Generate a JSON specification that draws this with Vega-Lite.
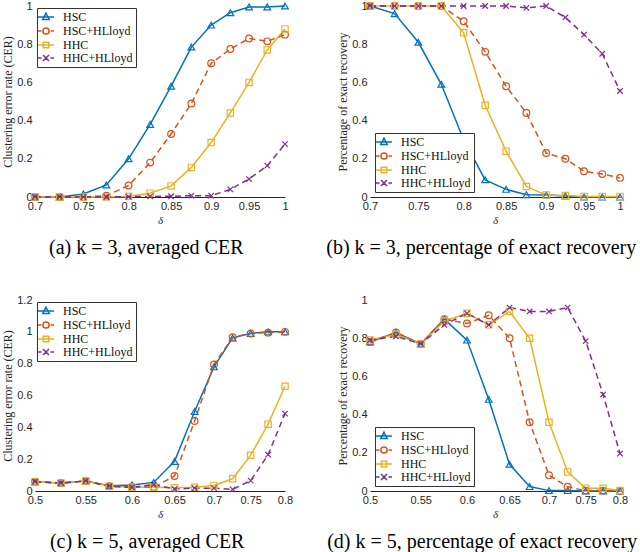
{
"$schema": "https://vega.github.io/schema/vega-lite/v6.json",
"padding": {"left": 1, "top": 0, "right": 2, "bottom": 4},
"background": "white",
"datasets": {
"a": [
{"x":0.7,"y":0,"method":"HSC"},{"x":0.725,"y":0,"method":"HSC"},{"x":0.75,"y":0.016,"method":"HSC"},{"x":0.775,"y":0.063,"method":"HSC"},{"x":0.8,"y":0.2,"method":"HSC"},{"x":0.825,"y":0.38,"method":"HSC"},{"x":0.85,"y":0.58,"method":"HSC"},{"x":0.875,"y":0.785,"method":"HSC"},{"x":0.9,"y":0.9,"method":"HSC"},{"x":0.925,"y":0.965,"method":"HSC"},{"x":0.95,"y":0.995,"method":"HSC"},{"x":0.975,"y":0.995,"method":"HSC"},{"x":1.0,"y":1.0,"method":"HSC"},
{"x":0.7,"y":0,"method":"HSC+HLloyd"},{"x":0.725,"y":0,"method":"HSC+HLloyd"},{"x":0.75,"y":0,"method":"HSC+HLloyd"},{"x":0.775,"y":0.007,"method":"HSC+HLloyd"},{"x":0.8,"y":0.06,"method":"HSC+HLloyd"},{"x":0.825,"y":0.18,"method":"HSC+HLloyd"},{"x":0.85,"y":0.33,"method":"HSC+HLloyd"},{"x":0.875,"y":0.49,"method":"HSC+HLloyd"},{"x":0.9,"y":0.7,"method":"HSC+HLloyd"},{"x":0.925,"y":0.775,"method":"HSC+HLloyd"},{"x":0.95,"y":0.83,"method":"HSC+HLloyd"},{"x":0.975,"y":0.815,"method":"HSC+HLloyd"},{"x":1.0,"y":0.85,"method":"HSC+HLloyd"},
{"x":0.7,"y":0,"method":"HHC"},{"x":0.725,"y":0,"method":"HHC"},{"x":0.75,"y":0,"method":"HHC"},{"x":0.775,"y":0,"method":"HHC"},{"x":0.8,"y":0.004,"method":"HHC"},{"x":0.825,"y":0.02,"method":"HHC"},{"x":0.85,"y":0.058,"method":"HHC"},{"x":0.875,"y":0.155,"method":"HHC"},{"x":0.9,"y":0.285,"method":"HHC"},{"x":0.925,"y":0.44,"method":"HHC"},{"x":0.95,"y":0.6,"method":"HHC"},{"x":0.975,"y":0.77,"method":"HHC"},{"x":1.0,"y":0.88,"method":"HHC"},
{"x":0.7,"y":0,"method":"HHC+HLloyd"},{"x":0.725,"y":0,"method":"HHC+HLloyd"},{"x":0.75,"y":0,"method":"HHC+HLloyd"},{"x":0.775,"y":0,"method":"HHC+HLloyd"},{"x":0.8,"y":0.002,"method":"HHC+HLloyd"},{"x":0.825,"y":0.003,"method":"HHC+HLloyd"},{"x":0.85,"y":0.004,"method":"HHC+HLloyd"},{"x":0.875,"y":0.007,"method":"HHC+HLloyd"},{"x":0.9,"y":0.007,"method":"HHC+HLloyd"},{"x":0.925,"y":0.04,"method":"HHC+HLloyd"},{"x":0.95,"y":0.094,"method":"HHC+HLloyd"},{"x":0.975,"y":0.164,"method":"HHC+HLloyd"},{"x":1.0,"y":0.277,"method":"HHC+HLloyd"}
],
"b": [
{"x":0.7,"y":1,"method":"HSC"},{"x":0.725,"y":0.96,"method":"HSC"},{"x":0.75,"y":0.81,"method":"HSC"},{"x":0.775,"y":0.59,"method":"HSC"},{"x":0.8,"y":0.3,"method":"HSC"},{"x":0.825,"y":0.09,"method":"HSC"},{"x":0.85,"y":0.04,"method":"HSC"},{"x":0.875,"y":0.012,"method":"HSC"},{"x":0.9,"y":0.01,"method":"HSC"},{"x":0.925,"y":0.005,"method":"HSC"},{"x":0.95,"y":0,"method":"HSC"},{"x":0.975,"y":0,"method":"HSC"},{"x":1.0,"y":0,"method":"HSC"},
{"x":0.7,"y":1,"method":"HSC+HLloyd"},{"x":0.725,"y":1,"method":"HSC+HLloyd"},{"x":0.75,"y":1,"method":"HSC+HLloyd"},{"x":0.775,"y":1,"method":"HSC+HLloyd"},{"x":0.8,"y":0.92,"method":"HSC+HLloyd"},{"x":0.825,"y":0.76,"method":"HSC+HLloyd"},{"x":0.85,"y":0.58,"method":"HSC+HLloyd"},{"x":0.875,"y":0.44,"method":"HSC+HLloyd"},{"x":0.9,"y":0.23,"method":"HSC+HLloyd"},{"x":0.925,"y":0.2,"method":"HSC+HLloyd"},{"x":0.95,"y":0.135,"method":"HSC+HLloyd"},{"x":0.975,"y":0.12,"method":"HSC+HLloyd"},{"x":1.0,"y":0.1,"method":"HSC+HLloyd"},
{"x":0.7,"y":1,"method":"HHC"},{"x":0.725,"y":1,"method":"HHC"},{"x":0.75,"y":1,"method":"HHC"},{"x":0.775,"y":1,"method":"HHC"},{"x":0.8,"y":0.86,"method":"HHC"},{"x":0.825,"y":0.48,"method":"HHC"},{"x":0.85,"y":0.24,"method":"HHC"},{"x":0.875,"y":0.055,"method":"HHC"},{"x":0.9,"y":0.01,"method":"HHC"},{"x":0.925,"y":0.008,"method":"HHC"},{"x":0.95,"y":0.003,"method":"HHC"},{"x":0.975,"y":0.003,"method":"HHC"},{"x":1.0,"y":0.003,"method":"HHC"},
{"x":0.7,"y":1,"method":"HHC+HLloyd"},{"x":0.725,"y":1,"method":"HHC+HLloyd"},{"x":0.75,"y":1,"method":"HHC+HLloyd"},{"x":0.775,"y":1,"method":"HHC+HLloyd"},{"x":0.8,"y":1,"method":"HHC+HLloyd"},{"x":0.825,"y":1,"method":"HHC+HLloyd"},{"x":0.85,"y":1,"method":"HHC+HLloyd"},{"x":0.875,"y":0.99,"method":"HHC+HLloyd"},{"x":0.9,"y":1,"method":"HHC+HLloyd"},{"x":0.925,"y":0.94,"method":"HHC+HLloyd"},{"x":0.95,"y":0.85,"method":"HHC+HLloyd"},{"x":0.975,"y":0.75,"method":"HHC+HLloyd"},{"x":1.0,"y":0.555,"method":"HHC+HLloyd"}
],
"c": [
{"x":0.5,"y":0.058,"method":"HSC"},{"x":0.525,"y":0.05,"method":"HSC"},{"x":0.55,"y":0.063,"method":"HSC"},{"x":0.575,"y":0.033,"method":"HSC"},{"x":0.6,"y":0.038,"method":"HSC"},{"x":0.625,"y":0.054,"method":"HSC"},{"x":0.65,"y":0.186,"method":"HSC"},{"x":0.675,"y":0.5,"method":"HSC"},{"x":0.7,"y":0.78,"method":"HSC"},{"x":0.725,"y":0.962,"method":"HSC"},{"x":0.75,"y":0.99,"method":"HSC"},{"x":0.775,"y":1.0,"method":"HSC"},{"x":0.8,"y":1.0,"method":"HSC"},
{"x":0.5,"y":0.058,"method":"HSC+HLloyd"},{"x":0.525,"y":0.05,"method":"HSC+HLloyd"},{"x":0.55,"y":0.063,"method":"HSC+HLloyd"},{"x":0.575,"y":0.03,"method":"HSC+HLloyd"},{"x":0.6,"y":0.025,"method":"HSC+HLloyd"},{"x":0.625,"y":0.025,"method":"HSC+HLloyd"},{"x":0.65,"y":0.094,"method":"HSC+HLloyd"},{"x":0.675,"y":0.44,"method":"HSC+HLloyd"},{"x":0.7,"y":0.795,"method":"HSC+HLloyd"},{"x":0.725,"y":0.966,"method":"HSC+HLloyd"},{"x":0.75,"y":0.99,"method":"HSC+HLloyd"},{"x":0.775,"y":0.995,"method":"HSC+HLloyd"},{"x":0.8,"y":1.0,"method":"HSC+HLloyd"},
{"x":0.5,"y":0.058,"method":"HHC"},{"x":0.525,"y":0.05,"method":"HHC"},{"x":0.55,"y":0.063,"method":"HHC"},{"x":0.575,"y":0.03,"method":"HHC"},{"x":0.6,"y":0.023,"method":"HHC"},{"x":0.625,"y":0.023,"method":"HHC"},{"x":0.65,"y":0.02,"method":"HHC"},{"x":0.675,"y":0.023,"method":"HHC"},{"x":0.7,"y":0.035,"method":"HHC"},{"x":0.725,"y":0.077,"method":"HHC"},{"x":0.75,"y":0.225,"method":"HHC"},{"x":0.775,"y":0.42,"method":"HHC"},{"x":0.8,"y":0.658,"method":"HHC"},
{"x":0.5,"y":0.058,"method":"HHC+HLloyd"},{"x":0.525,"y":0.05,"method":"HHC+HLloyd"},{"x":0.55,"y":0.063,"method":"HHC+HLloyd"},{"x":0.575,"y":0.03,"method":"HHC+HLloyd"},{"x":0.6,"y":0.023,"method":"HHC+HLloyd"},{"x":0.625,"y":0.04,"method":"HHC+HLloyd"},{"x":0.65,"y":0.012,"method":"HHC+HLloyd"},{"x":0.675,"y":0.018,"method":"HHC+HLloyd"},{"x":0.7,"y":0.018,"method":"HHC+HLloyd"},{"x":0.725,"y":0.01,"method":"HHC+HLloyd"},{"x":0.75,"y":0.065,"method":"HHC+HLloyd"},{"x":0.775,"y":0.228,"method":"HHC+HLloyd"},{"x":0.8,"y":0.486,"method":"HHC+HLloyd"}
],
"d": [
{"x":0.5,"y":0.78,"method":"HSC"},{"x":0.525,"y":0.83,"method":"HSC"},{"x":0.55,"y":0.77,"method":"HSC"},{"x":0.575,"y":0.9,"method":"HSC"},{"x":0.6,"y":0.79,"method":"HSC"},{"x":0.625,"y":0.48,"method":"HSC"},{"x":0.65,"y":0.14,"method":"HSC"},{"x":0.675,"y":0.023,"method":"HSC"},{"x":0.7,"y":0.002,"method":"HSC"},{"x":0.725,"y":0.002,"method":"HSC"},{"x":0.75,"y":0,"method":"HSC"},{"x":0.775,"y":0,"method":"HSC"},{"x":0.8,"y":0,"method":"HSC"},
{"x":0.5,"y":0.78,"method":"HSC+HLloyd"},{"x":0.525,"y":0.83,"method":"HSC+HLloyd"},{"x":0.55,"y":0.77,"method":"HSC+HLloyd"},{"x":0.575,"y":0.9,"method":"HSC+HLloyd"},{"x":0.6,"y":0.877,"method":"HSC+HLloyd"},{"x":0.625,"y":0.92,"method":"HSC+HLloyd"},{"x":0.65,"y":0.8,"method":"HSC+HLloyd"},{"x":0.675,"y":0.36,"method":"HSC+HLloyd"},{"x":0.7,"y":0.083,"method":"HSC+HLloyd"},{"x":0.725,"y":0.022,"method":"HSC+HLloyd"},{"x":0.75,"y":0.002,"method":"HSC+HLloyd"},{"x":0.775,"y":0.002,"method":"HSC+HLloyd"},{"x":0.8,"y":0,"method":"HSC+HLloyd"},
{"x":0.5,"y":0.79,"method":"HHC"},{"x":0.525,"y":0.82,"method":"HHC"},{"x":0.55,"y":0.77,"method":"HHC"},{"x":0.575,"y":0.89,"method":"HHC"},{"x":0.6,"y":0.93,"method":"HHC"},{"x":0.625,"y":0.87,"method":"HHC"},{"x":0.65,"y":0.94,"method":"HHC"},{"x":0.675,"y":0.8,"method":"HHC"},{"x":0.7,"y":0.36,"method":"HHC"},{"x":0.725,"y":0.1,"method":"HHC"},{"x":0.75,"y":0.014,"method":"HHC"},{"x":0.775,"y":0.014,"method":"HHC"},{"x":0.8,"y":0.003,"method":"HHC"},
{"x":0.5,"y":0.79,"method":"HHC+HLloyd"},{"x":0.525,"y":0.81,"method":"HHC+HLloyd"},{"x":0.55,"y":0.77,"method":"HHC+HLloyd"},{"x":0.575,"y":0.87,"method":"HHC+HLloyd"},{"x":0.6,"y":0.93,"method":"HHC+HLloyd"},{"x":0.625,"y":0.87,"method":"HHC+HLloyd"},{"x":0.65,"y":0.96,"method":"HHC+HLloyd"},{"x":0.675,"y":0.94,"method":"HHC+HLloyd"},{"x":0.7,"y":0.94,"method":"HHC+HLloyd"},{"x":0.725,"y":0.96,"method":"HHC+HLloyd"},{"x":0.75,"y":0.785,"method":"HHC+HLloyd"},{"x":0.775,"y":0.505,"method":"HHC+HLloyd"},{"x":0.8,"y":0.196,"method":"HHC+HLloyd"}
]
},
"config": {
"view": {"stroke": null},
"axis": {"labelFont": "Liberation Sans", "labelFontSize": 11, "labelColor": "#262626", "titleFont": "Liberation Serif", "titleFontWeight": "normal", "titleFontSize": 12, "titleColor": "#262626", "ticks": false, "grid": false, "labelPadding": 3, "domain": false, "titlePadding": 2},
"axisX": {"domain": true, "domainColor": "#262626", "domainWidth": 1, "titleFontStyle": "italic", "titleFontSize": 11, "titlePadding": 3, "labelPadding": 3, "labelFlush": false},
"legend": {"offset": 2, "padding": 3, "fillColor": "white", "strokeColor": "#333333", "labelFont": "Liberation Serif", "labelFontSize": 12, "labelColor": "#111111", "symbolSize": 100, "labelOffset": 11, "rowPadding": 1},
"title": {"font": "Liberation Serif", "fontSize": 20, "fontWeight": "normal", "color": "black", "orient": "bottom", "anchor": "middle", "frame": "bounds", "offset": 13}
},
"resolve": {"scale": {"color": "independent", "shape": "independent"}, "legend": {"color": "independent", "shape": "independent"}},
"columns": 2,
"bounds": "flush",
"spacing": {"row": 103, "column": 85},
"concat": [
{
"width": 250, "height": 191,
"data": {"name": "a"},
"title": {"text": "(a) k = 3, averaged CER"},
"encoding": {
"x": {"field": "x", "type": "quantitative", "scale": {"type": "log", "domain": [0.7, 1], "nice": false}, "axis": {"values": [0.7, 0.75, 0.8, 0.85, 0.9, 0.95, 1], "format": "~g", "title": "δ"}},
"y": {"field": "y", "type": "quantitative", "scale": {"domain": [0, 1], "nice": false}, "axis": {"values": [0, 0.2, 0.4, 0.6, 0.8, 1], "format": "~g", "title": "Clustering error rate (CER)"}},
"color": {"field": "method", "type": "nominal", "scale": {"domain": ["HSC", "HSC+HLloyd", "HHC", "HHC+HLloyd"], "range": ["#0072BD", "#D95319", "#EDB120", "#7E2F8E"]}, "legend": {"title": null, "orient": "top-left"}}
},
"layer": [
{"transform": [{"filter": {"field": "method", "oneOf": ["HSC", "HHC"]}}], "mark": {"type": "line", "strokeWidth": 1.5}},
{"transform": [{"filter": {"field": "method", "oneOf": ["HSC+HLloyd", "HHC+HLloyd"]}}], "mark": {"type": "line", "strokeWidth": 1.5, "strokeDash": [6, 4]}},
{"transform": [{"filter": {"field": "method", "equal": "HSC"}}], "mark": {"type": "point", "shape": "triangle-up", "filled": false, "size": 45, "strokeWidth": 1.2, "opacity": 1}},
{"transform": [{"filter": {"field": "method", "equal": "HSC+HLloyd"}}], "mark": {"type": "point", "shape": "circle", "filled": false, "size": 45, "strokeWidth": 1.2, "opacity": 1}},
{"transform": [{"filter": {"field": "method", "equal": "HHC"}}], "mark": {"type": "point", "shape": "square", "filled": false, "size": 40, "strokeWidth": 1.2, "opacity": 1}},
{"transform": [{"filter": {"field": "method", "equal": "HHC+HLloyd"}}], "mark": {"type": "point", "shape": "M-1,-1L1,1M-1,1L1,-1", "filled": false, "size": 30, "strokeWidth": 1.2, "opacity": 1}},
{"mark": {"type": "point", "size": 0, "filled": false}, "encoding": {"shape": {"field": "method", "type": "nominal", "scale": {"domain": ["HSC", "HSC+HLloyd", "HHC", "HHC+HLloyd"], "range": ["M-1.6,0L1.6,0M0,-0.75L0.65,0.5L-0.65,0.5Z", "M-1.6,0L-0.9,0M0.9,0L1.6,0M0.62,0A0.62,0.62,0,1,1,-0.62,0A0.62,0.62,0,1,1,0.62,0Z", "M-1.6,0L1.6,0M-0.55,-0.55L0.55,-0.55L0.55,0.55L-0.55,0.55Z", "M-1.6,0L-0.9,0M0.9,0L1.6,0M-0.6,-0.6L0.6,0.6M-0.6,0.6L0.6,-0.6"]}, "legend": {"title": null, "orient": "top-left"}}}}
]
},
{
"width": 250, "height": 191,
"data": {"name": "b"},
"title": {"text": "(b) k = 3, percentage of exact recovery"},
"encoding": {
"x": {"field": "x", "type": "quantitative", "scale": {"type": "log", "domain": [0.7, 1], "nice": false}, "axis": {"values": [0.7, 0.75, 0.8, 0.85, 0.9, 0.95, 1], "format": "~g", "title": "δ"}},
"y": {"field": "y", "type": "quantitative", "scale": {"domain": [0, 1], "nice": false}, "axis": {"values": [0, 0.2, 0.4, 0.6, 0.8, 1], "format": "~g", "title": "Percentage of exact recovery"}},
"color": {"field": "method", "type": "nominal", "scale": {"domain": ["HSC", "HSC+HLloyd", "HHC", "HHC+HLloyd"], "range": ["#0072BD", "#D95319", "#EDB120", "#7E2F8E"]}, "legend": {"title": null, "orient": "bottom-left", "offset": 5}}
},
"layer": [
{"data": {"values": [{}]}, "mark": {"type": "rule", "strokeWidth": 1}, "encoding": {"x": {"datum": 1}, "y": {"datum": 0}, "y2": {"datum": 1}, "color": {"value": "#555555"}}},
{"transform": [{"filter": {"field": "method", "oneOf": ["HSC", "HHC"]}}], "mark": {"type": "line", "strokeWidth": 1.5}},
{"transform": [{"filter": {"field": "method", "oneOf": ["HSC+HLloyd", "HHC+HLloyd"]}}], "mark": {"type": "line", "strokeWidth": 1.5, "strokeDash": [6, 4]}},
{"transform": [{"filter": {"field": "method", "equal": "HSC"}}], "mark": {"type": "point", "shape": "triangle-up", "filled": false, "size": 45, "strokeWidth": 1.2, "opacity": 1}},
{"transform": [{"filter": {"field": "method", "equal": "HSC+HLloyd"}}], "mark": {"type": "point", "shape": "circle", "filled": false, "size": 45, "strokeWidth": 1.2, "opacity": 1}},
{"transform": [{"filter": {"field": "method", "equal": "HHC"}}], "mark": {"type": "point", "shape": "square", "filled": false, "size": 40, "strokeWidth": 1.2, "opacity": 1}},
{"transform": [{"filter": {"field": "method", "equal": "HHC+HLloyd"}}], "mark": {"type": "point", "shape": "M-1,-1L1,1M-1,1L1,-1", "filled": false, "size": 30, "strokeWidth": 1.2, "opacity": 1}},
{"mark": {"type": "point", "size": 0, "filled": false}, "encoding": {"shape": {"field": "method", "type": "nominal", "scale": {"domain": ["HSC", "HSC+HLloyd", "HHC", "HHC+HLloyd"], "range": ["M-1.6,0L1.6,0M0,-0.75L0.65,0.5L-0.65,0.5Z", "M-1.6,0L-0.9,0M0.9,0L1.6,0M0.62,0A0.62,0.62,0,1,1,-0.62,0A0.62,0.62,0,1,1,0.62,0Z", "M-1.6,0L1.6,0M-0.55,-0.55L0.55,-0.55L0.55,0.55L-0.55,0.55Z", "M-1.6,0L-0.9,0M0.9,0L1.6,0M-0.6,-0.6L0.6,0.6M-0.6,0.6L0.6,-0.6"]}, "legend": {"title": null, "orient": "bottom-left", "offset": 5}}}}
]
},
{
"width": 250, "height": 191,
"data": {"name": "c"},
"title": {"text": "(c) k = 5, averaged CER"},
"encoding": {
"x": {"field": "x", "type": "quantitative", "scale": {"type": "log", "domain": [0.5, 0.8], "nice": false}, "axis": {"values": [0.5, 0.55, 0.6, 0.65, 0.7, 0.75, 0.8], "format": "~g", "title": "δ"}},
"y": {"field": "y", "type": "quantitative", "scale": {"domain": [0, 1.2], "nice": false}, "axis": {"values": [0, 0.2, 0.4, 0.6, 0.8, 1, 1.2], "format": "~g", "title": "Clustering error rate (CER)"}},
"color": {"field": "method", "type": "nominal", "scale": {"domain": ["HSC", "HSC+HLloyd", "HHC", "HHC+HLloyd"], "range": ["#0072BD", "#D95319", "#EDB120", "#7E2F8E"]}, "legend": {"title": null, "orient": "top-left"}}
},
"layer": [
{"transform": [{"filter": {"field": "method", "oneOf": ["HSC", "HHC"]}}], "mark": {"type": "line", "strokeWidth": 1.5}},
{"transform": [{"filter": {"field": "method", "oneOf": ["HSC+HLloyd", "HHC+HLloyd"]}}], "mark": {"type": "line", "strokeWidth": 1.5, "strokeDash": [6, 4]}},
{"transform": [{"filter": {"field": "method", "equal": "HSC"}}], "mark": {"type": "point", "shape": "triangle-up", "filled": false, "size": 45, "strokeWidth": 1.2, "opacity": 1}},
{"transform": [{"filter": {"field": "method", "equal": "HSC+HLloyd"}}], "mark": {"type": "point", "shape": "circle", "filled": false, "size": 45, "strokeWidth": 1.2, "opacity": 1}},
{"transform": [{"filter": {"field": "method", "equal": "HHC"}}], "mark": {"type": "point", "shape": "square", "filled": false, "size": 40, "strokeWidth": 1.2, "opacity": 1}},
{"transform": [{"filter": {"field": "method", "equal": "HHC+HLloyd"}}], "mark": {"type": "point", "shape": "M-1,-1L1,1M-1,1L1,-1", "filled": false, "size": 30, "strokeWidth": 1.2, "opacity": 1}},
{"mark": {"type": "point", "size": 0, "filled": false}, "encoding": {"shape": {"field": "method", "type": "nominal", "scale": {"domain": ["HSC", "HSC+HLloyd", "HHC", "HHC+HLloyd"], "range": ["M-1.6,0L1.6,0M0,-0.75L0.65,0.5L-0.65,0.5Z", "M-1.6,0L-0.9,0M0.9,0L1.6,0M0.62,0A0.62,0.62,0,1,1,-0.62,0A0.62,0.62,0,1,1,0.62,0Z", "M-1.6,0L1.6,0M-0.55,-0.55L0.55,-0.55L0.55,0.55L-0.55,0.55Z", "M-1.6,0L-0.9,0M0.9,0L1.6,0M-0.6,-0.6L0.6,0.6M-0.6,0.6L0.6,-0.6"]}, "legend": {"title": null, "orient": "top-left"}}}}
]
},
{
"width": 250, "height": 191,
"data": {"name": "d"},
"title": {"text": "(d) k = 5, percentage of exact recovery"},
"encoding": {
"x": {"field": "x", "type": "quantitative", "scale": {"type": "log", "domain": [0.5, 0.8], "nice": false}, "axis": {"values": [0.5, 0.55, 0.6, 0.65, 0.7, 0.75, 0.8], "format": "~g", "title": "δ"}},
"y": {"field": "y", "type": "quantitative", "scale": {"domain": [0, 1], "nice": false}, "axis": {"values": [0, 0.2, 0.4, 0.6, 0.8, 1], "format": "~g", "title": "Percentage of exact recovery"}},
"color": {"field": "method", "type": "nominal", "scale": {"domain": ["HSC", "HSC+HLloyd", "HHC", "HHC+HLloyd"], "range": ["#0072BD", "#D95319", "#EDB120", "#7E2F8E"]}, "legend": {"title": null, "orient": "bottom-left", "offset": 5}}
},
"layer": [
{"data": {"values": [{}]}, "mark": {"type": "rule", "strokeWidth": 1}, "encoding": {"x": {"datum": 0.8}, "y": {"datum": 0}, "y2": {"datum": 1}, "color": {"value": "#555555"}}},
{"transform": [{"filter": {"field": "method", "oneOf": ["HSC", "HHC"]}}], "mark": {"type": "line", "strokeWidth": 1.5}},
{"transform": [{"filter": {"field": "method", "oneOf": ["HSC+HLloyd", "HHC+HLloyd"]}}], "mark": {"type": "line", "strokeWidth": 1.5, "strokeDash": [6, 4]}},
{"transform": [{"filter": {"field": "method", "equal": "HSC"}}], "mark": {"type": "point", "shape": "triangle-up", "filled": false, "size": 45, "strokeWidth": 1.2, "opacity": 1}},
{"transform": [{"filter": {"field": "method", "equal": "HSC+HLloyd"}}], "mark": {"type": "point", "shape": "circle", "filled": false, "size": 45, "strokeWidth": 1.2, "opacity": 1}},
{"transform": [{"filter": {"field": "method", "equal": "HHC"}}], "mark": {"type": "point", "shape": "square", "filled": false, "size": 40, "strokeWidth": 1.2, "opacity": 1}},
{"transform": [{"filter": {"field": "method", "equal": "HHC+HLloyd"}}], "mark": {"type": "point", "shape": "M-1,-1L1,1M-1,1L1,-1", "filled": false, "size": 30, "strokeWidth": 1.2, "opacity": 1}},
{"mark": {"type": "point", "size": 0, "filled": false}, "encoding": {"shape": {"field": "method", "type": "nominal", "scale": {"domain": ["HSC", "HSC+HLloyd", "HHC", "HHC+HLloyd"], "range": ["M-1.6,0L1.6,0M0,-0.75L0.65,0.5L-0.65,0.5Z", "M-1.6,0L-0.9,0M0.9,0L1.6,0M0.62,0A0.62,0.62,0,1,1,-0.62,0A0.62,0.62,0,1,1,0.62,0Z", "M-1.6,0L1.6,0M-0.55,-0.55L0.55,-0.55L0.55,0.55L-0.55,0.55Z", "M-1.6,0L-0.9,0M0.9,0L1.6,0M-0.6,-0.6L0.6,0.6M-0.6,0.6L0.6,-0.6"]}, "legend": {"title": null, "orient": "bottom-left", "offset": 5}}}}
]
}
]
}
